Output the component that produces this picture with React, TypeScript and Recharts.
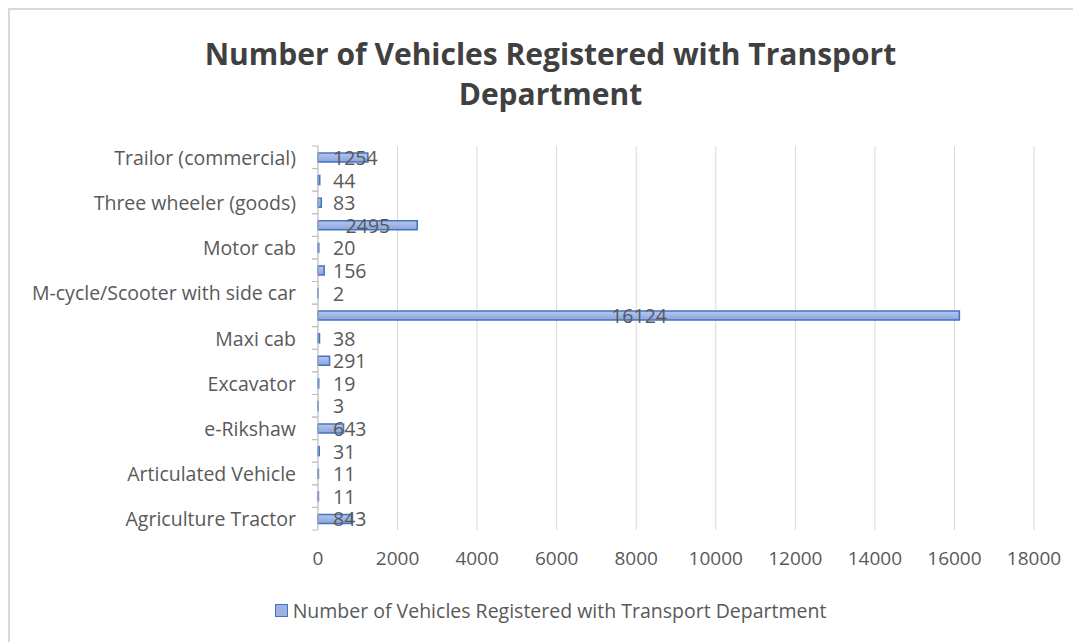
import { BarChart, Bar, XAxis, YAxis, CartesianGrid, Legend, LabelList } from 'recharts';

// alphabetical, bottom to top (as in the source sheet)
const categories = [
  'Agriculture Tractor',
  'Ambulance',
  'Articulated Vehicle',
  'Bus',
  'e-Rikshaw',
  'e-Rikshaw with cart',
  'Excavator',
  'Goods carrier',
  'Maxi cab',
  'M-cycle/Scooter',
  'M-cycle/Scooter with side car',
  'Moped',
  'Motor cab',
  'Motor car',
  'Three wheeler (goods)',
  'Three wheeler (passenger)',
  'Trailor (commercial)',
];
const registered = [843, 11, 11, 31, 643, 3, 19, 291, 38, 16124, 2, 156, 20, 2495, 83, 44, 1254];
const xTicks = [0, 2000, 4000, 6000, 8000, 10000, 12000, 14000, 16000, 18000];

const seriesName = 'Number of Vehicles Registered with Transport Department';
const font = '"Open Sans", Lato, sans-serif';
const gray = '#595959';
const fs = 19.5;

const data = categories.map((name, i) => ({ name, value: registered[i] }));

const BAND = 384 / categories.length;

const CategoryTick = (props: any) => {
  const { x, y, payload, index } = props;
  return (
    <g>
      <line x1={x - 6} x2={x} y1={y - BAND / 2} y2={y - BAND / 2} stroke="#bfbfbf" />
      <line x1={x - 6} x2={x} y1={y + BAND / 2} y2={y + BAND / 2} stroke="#bfbfbf" />
      {index % 2 === 0 && (
        <text x={x - 22} y={y} textAnchor="end" dominantBaseline="central" fill={gray} fontSize={fs} fontFamily={font}>
          {payload.value}
        </text>
      )}
    </g>
  );
};

const ValueLabel = (props: any) => {
  const { x, y, width, height, value } = props;
  const tw = String(value).length * 11;
  const lx = Math.max(x + width / 2 - tw / 2, x + 15);
  return (
    <text x={lx} y={y + height / 2} textAnchor="start" dominantBaseline="central" fill={gray} fontSize={fs} fontFamily={font}>
      {value}
    </text>
  );
};

const LegendBox = () => (
  <div style={{ display: 'flex', justifyContent: 'center', alignItems: 'center', fontFamily: font, fontSize: fs, color: gray }}>
    <span style={{ width: 11, height: 11, background: '#9db2e2', border: '1.5px solid #4472C4', marginRight: 5 }} />
    {seriesName}
  </div>
);

const App = () => {
  return (
    <div
      style={{
        position: 'relative',
        width: 1073,
        height: 634,
        borderTop: '2px solid #d9d9d9',
        borderLeft: '2px solid #d9d9d9',
        boxSizing: 'border-box',
        background: '#fff',
      }}
    >
      <div
        style={{
          position: 'absolute',
          top: 24,
          left: 0,
          width: 1081,
          textAlign: 'center',
          fontFamily: font,
          fontWeight: 700,
          fontSize: 30,
          lineHeight: '40px',
          color: '#404040',
        }}
      >
        Number of Vehicles Registered with Transport
        <br />
        Department
      </div>
      <BarChart
        width={1071}
        height={632}
        data={data}
        layout="vertical"
        margin={{ top: 136, right: 47, bottom: 22, left: 0 }}
        barCategoryGap={0}
      >
        <defs>
          <linearGradient id="barFill" x1="0" y1="0" x2="0" y2="1">
            <stop offset="0%" stopColor="#b7c7eb" />
            <stop offset="100%" stopColor="#8aa4db" />
          </linearGradient>
        </defs>
        <CartesianGrid horizontal={false} stroke="#d9d9d9" />
        <XAxis
          type="number"
          domain={[0, 18000]}
          ticks={xTicks}
          axisLine={false}
          tickLine={false}
          tickSize={0}
          tickMargin={22}
          height={40}
          tick={{ fill: gray, fontSize: 19, fontFamily: font }}
        />
        <YAxis
          type="category"
          dataKey="name"
          reversed
          width={308}
          interval={0}
          tickSize={0}
          tickMargin={0}
          tickLine={false}
          axisLine={{ stroke: '#bfbfbf' }}
          tick={<CategoryTick />}
        />
        <Legend
          verticalAlign="bottom"
          height={50}
          wrapperStyle={{ top: 587, left: 0, width: 1081 }}
          content={<LegendBox />}
        />
        <Bar
          dataKey="value"
          name={seriesName}
          barSize={9}
          fill="url(#barFill)"
          stroke="#4472C4"
          strokeWidth={1.5}
          isAnimationActive={false}
        >
          <LabelList dataKey="value" content={<ValueLabel />} />
        </Bar>
      </BarChart>
    </div>
  );
};

export default App;
